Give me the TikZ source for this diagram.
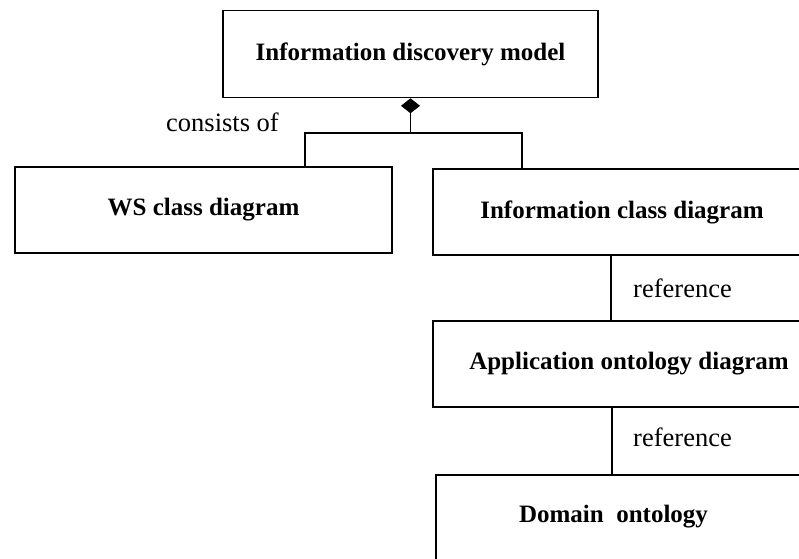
\documentclass[tikz,border=0pt]{standalone}
\usepackage{fontspec}
\setmainfont{Liberation Serif}
\usetikzlibrary{arrows.meta}
\begin{document}
\begin{tikzpicture}[x=1pt,y=-1pt,
  box/.style={draw, line width=1.6pt, inner sep=0pt, minimum height=86pt,
              font=\fontsize{25}{28}\selectfont\bfseries},
  lbl/.style={inner sep=0pt, font=\fontsize{26.5}{30}\selectfont},
  conn/.style={line width=1.5pt}]
  \useasboundingbox (0,0) rectangle (799,558);
  \clip (0,0) rectangle (799,558);

  % class boxes
  \node[box, minimum width=375pt, minimum height=87pt] (top) at (410.5,54) {Information discovery model};
  \node[box, minimum width=377pt] (ws) at (203.5,210) {WS class diagram};
  \node[box, minimum width=378pt] (info) at (622,212) {Information class diagram};
  \node[box, minimum width=392pt] (app) at (629,364) {Application ontology diagram};
  \node[box, minimum width=420pt, minimum height=90pt] (dom) at (646,520) {};
  \node[inner sep=0pt, font=\fontsize{25}{28}\selectfont\bfseries] (domtxt) at (613.5,517) {Domain\ \ ontology};

  % composition: aggregate with filled diamond
  \coordinate (j) at (410,133);
  \coordinate (lx) at (305,133);
  \coordinate (rx) at (522,133);
  \draw[conn, {Diamond[length=15pt,width=19pt]}-] (top.south) -- (top.south |- j);
  \draw[conn] (ws.north -| lx) -- (lx) -- (rx) -- (info.north -| rx);
  \node[lbl] (cons) at (222.5,122) {consists of};

  % reference links
  \coordinate (c1) at (611,0);
  \coordinate (c2) at (612,0);
  \draw[conn] (info.south -| c1) -- (app.north -| c1);
  \draw[conn] (app.south -| c2) -- (dom.north -| c2);
  \node[lbl] (ref1) at (682.5,288) {reference};
  \node[lbl] (ref2) at (682.5,437) {reference};
\end{tikzpicture}
\end{document}
